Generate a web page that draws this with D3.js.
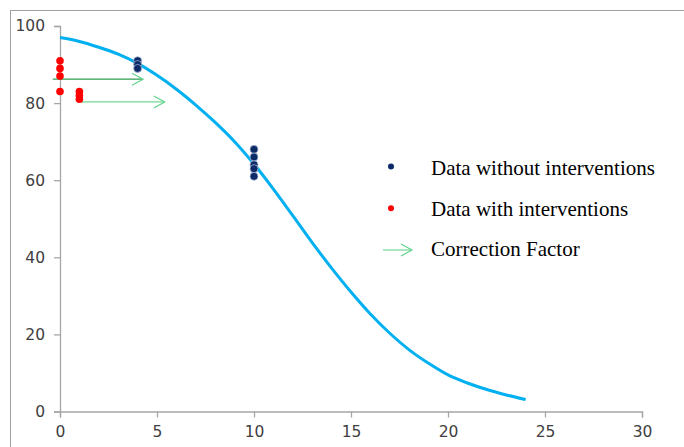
<!DOCTYPE html>
<html>
<head>
<meta charset="utf-8">
<script src="https://cdn.jsdelivr.net/npm/d3@7/dist/d3.min.js"></script>
<style>
  html, body { margin: 0; padding: 0; background: #fff; }
  svg { display: block; }
</style>
</head>
<body>
<svg id="chart" width="684" height="447"></svg>
<script>
// ---- data ----
const curveX = [0,1,2,3,4,5,6,7,8,9,10,11,12,13,14,15,16,17,18,19,20,21,22,23,24];
const curveY = [97,96,94.5,92.7,90.3,87.2,83.6,79.5,75,70,64.2,57.7,50.8,43.8,37.2,31,25.3,20.3,16,12.5,9.5,7.4,5.7,4.3,3.1];

const noIntervX = [4,4,4,10,10,10,10,10];
const noIntervY = [91,90,89,68,66,64,63,61];

const withIntervX = [0,0,0,0,1,1,1];
const withIntervY = [91,89,87,83,83,82,81];

const arrowStartX = [-0.37, 1];
const arrowEndX = [4.28, 5.4];
const arrowY = [86.2, 80.3];

const xTicks = [0,5,10,15,20,25,30];
const yTicks = [0,20,40,60,80,100];

const legendLabels = ["Data without interventions", "Data with interventions", "Correction Factor"];

// ---- drawing ----
const svg = d3.select("#chart");
const x = d3.scaleLinear().domain([0, 30]).range([60, 642]);
const y = d3.scaleLinear().domain([0, 100]).range([411.5, 26]);

// outer frame
svg.append("rect")
  .attr("x", 10.5).attr("y", 10.5)
  .attr("width", 800).attr("height", 600)
  .attr("fill", "none").attr("stroke", "#a0a0a0").attr("stroke-width", 1);

const axisColor = "#a6a6a6";
const labelFont = "'DejaVu Sans', sans-serif";

const xAxis = svg.append("g")
  .attr("transform", `translate(0,${y(0)})`)
  .call(d3.axisBottom(x).tickValues(xTicks).tickSize(6).tickPadding(8).tickFormat(d3.format("d")));
const yAxis = svg.append("g")
  .attr("transform", `translate(${x(0)},0)`)
  .call(d3.axisLeft(y).tickValues(yTicks).tickSize(6).tickPadding(9).tickFormat(d3.format("d")));

[xAxis, yAxis].forEach(g => {
  g.selectAll("path.domain").attr("stroke", axisColor).attr("stroke-width", 1.3);
  g.selectAll(".tick line").attr("stroke", axisColor).attr("stroke-width", 1.3);
  g.selectAll(".tick text")
    .attr("fill", "#404040")
    .style("font-family", labelFont)
    .style("font-size", "15.5px");
});

// curve
const pts = curveX.map((d, i) => [d, curveY[i]]);
svg.append("path")
  .datum(pts)
  .attr("fill", "none")
  .attr("stroke", "#00b0f0")
  .attr("stroke-width", 3)
  .attr("d", d3.line().x(d => x(d[0])).y(d => y(d[1])).curve(d3.curveCatmullRom.alpha(0.5)));

// arrows
function drawArrow(g, x0, x1, yy, lineColor, headColor) {
  g.append("line")
    .attr("x1", x0).attr("x2", x1 - 1).attr("y1", yy).attr("y2", yy)
    .attr("stroke", lineColor).attr("stroke-width", 1.2);
  g.append("path")
    .attr("d", `M${x1 - 11},${yy - 6} L${x1},${yy} L${x1 - 11},${yy + 6}`)
    .attr("fill", "none").attr("stroke", headColor).attr("stroke-width", 1.2);
}
const arrowLine = ["#2e9e50", "#6fd894"];
arrowY.forEach((v, i) => {
  drawArrow(svg, x(arrowStartX[i]), x(arrowEndX[i]), y(v), arrowLine[i], "#5fd38a");
});

// red dots
svg.append("g").selectAll("circle")
  .data(withIntervX.map((d, i) => [d, withIntervY[i]]))
  .join("circle")
  .attr("cx", d => x(d[0])).attr("cy", d => y(d[1]))
  .attr("r", 3.8)
  .attr("fill", "#ff0000");

// blue dots
svg.append("g").selectAll("circle")
  .data(noIntervX.map((d, i) => [d, noIntervY[i]]))
  .join("circle")
  .attr("cx", d => x(d[0])).attr("cy", d => y(d[1]))
  .attr("r", 4)
  .attr("fill", "#0c2a68")
  .attr("stroke", "#b8c4dc").attr("stroke-width", 0.7);

// legend
const leg = svg.append("g");
const legTextX = 431;
const legBase = [174.5, 216, 256];
leg.append("circle").attr("cx", 391).attr("cy", 166.5).attr("r", 3).attr("fill", "#0c2a68");
leg.append("circle").attr("cx", 391).attr("cy", 208.3).attr("r", 3).attr("fill", "#ff0000");
drawArrow(leg, 383, 412, 250, "#6fd894", "#5fd38a");
legendLabels.forEach((t, i) => {
  leg.append("text")
    .attr("x", legTextX).attr("y", legBase[i])
    .attr("fill", "#000")
    .style("font-family", "'Liberation Serif', 'Times New Roman', serif")
    .style("font-size", "21px")
    .text(t);
});
</script>
</body>
</html>
